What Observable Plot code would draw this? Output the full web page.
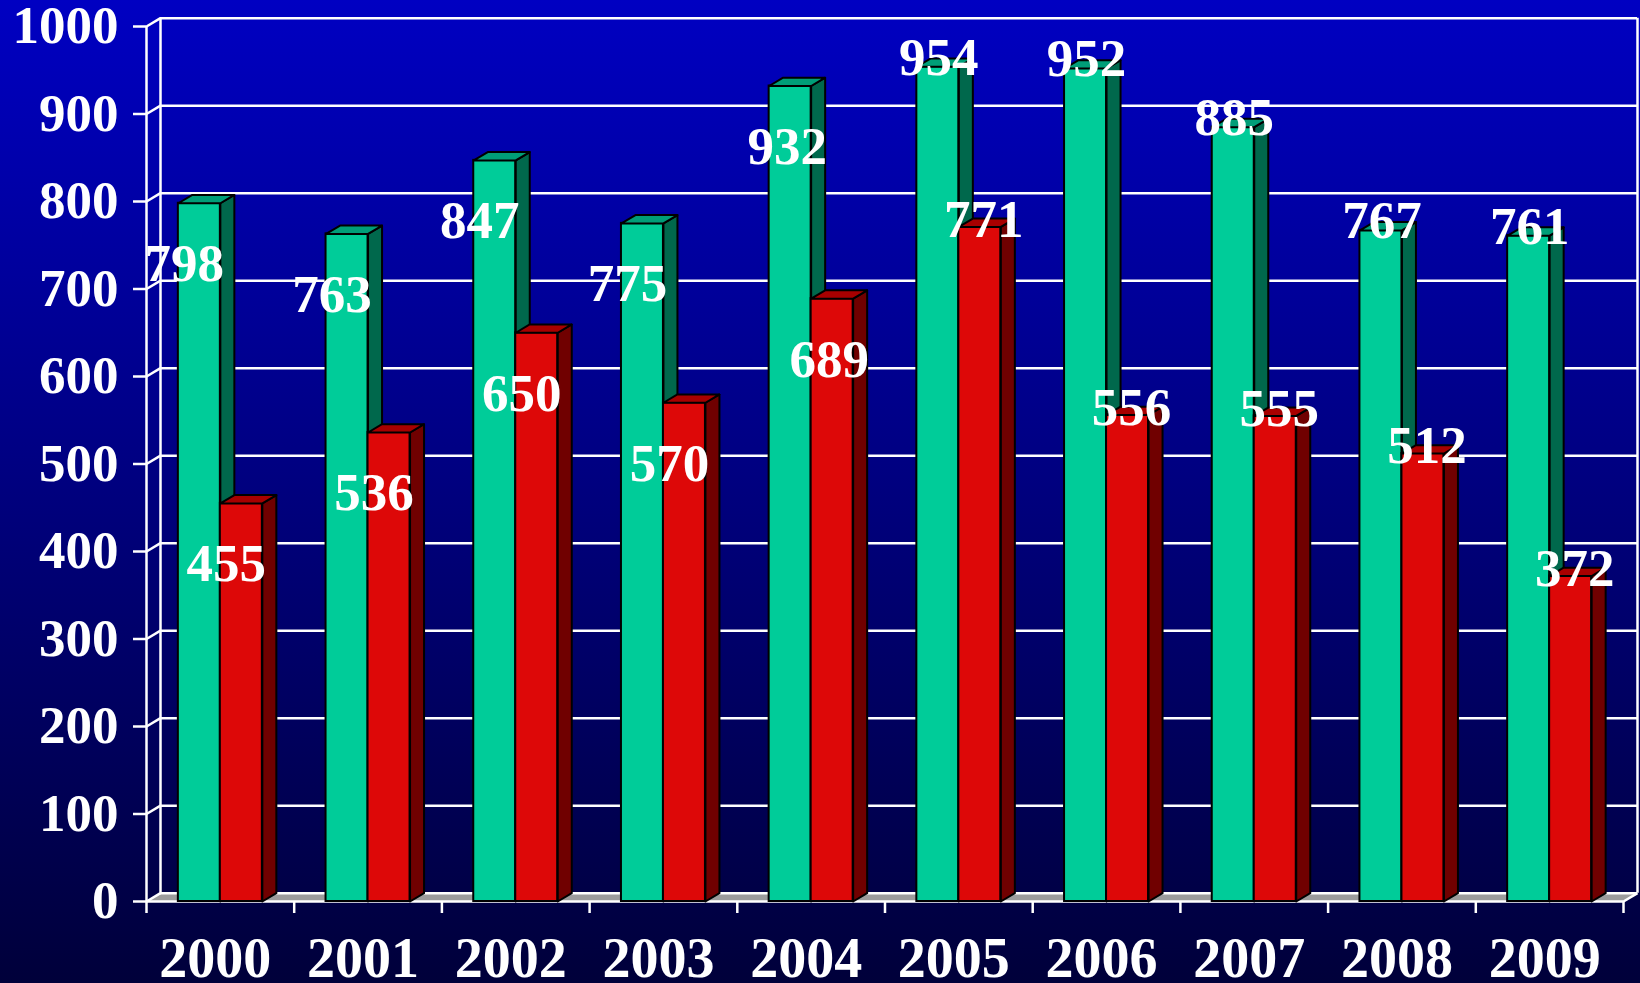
<!DOCTYPE html>
<html>
<head>
<meta charset="utf-8">
<script src="https://cdn.jsdelivr.net/npm/d3@7"></script>
<script src="https://cdn.jsdelivr.net/npm/@observablehq/plot@0.6"></script>
<style>
  html, body { margin: 0; padding: 0; background: #00003a; }
  #chart svg { display: block; }
</style>
</head>
<body>
<div id="chart"></div>
<script>
// ---- data ----
const years = [2000, 2001, 2002, 2003, 2004, 2005, 2006, 2007, 2008, 2009];
const greenValues = [798, 763, 847, 775, 932, 954, 952, 885, 767, 761];
const redValues = [455, 536, 650, 570, 689, 771, 556, 555, 512, 372];
const yTicks = [0, 100, 200, 300, 400, 500, 600, 700, 800, 900, 1000];

// ---- geometry (in scale units) ----
const W = 1640, H = 983;
const mL = 146, mR = 17, mT = 26, mB = 82;
const PX = (W - mL - mR) / years.length;     // px per x unit (one year band)
const YPX = (H - mT - mB) / 1000;           // px per value unit
const DX = 14 / PX;                          // 3D depth, horizontal
const DY = 8.3 / YPX;                        // 3D depth, vertical
const BW = 42 / PX;                          // bar width

const series = [
  {name: "green", values: greenValues, front: "#00cc99", top: "#009e78", side: "#00684c"},
  {name: "red", values: redValues, front: "#dd0808", top: "#a80000", side: "#700000"}
];

const fronts = [], tops = [], sides = [], labels = [];
series.forEach((s, si) => {
  s.values.forEach((v, i) => {
    const x1 = i + 0.5 - BW + si * BW, x2 = x1 + BW;
    const id = s.name + i;
    fronts.push({s: si, x1, x2, v});
    tops.push(
      {id, s: si, x: x1, y: v}, {id, s: si, x: x2, y: v},
      {id, s: si, x: x2 + DX, y: v + DY}, {id, s: si, x: x1 + DX, y: v + DY}
    );
    sides.push(
      {id, s: si, x: x2, y: 0}, {id, s: si, x: x2, y: v},
      {id, s: si, x: x2 + DX, y: v + DY}, {id, s: si, x: x2 + DX, y: DY}
    );
    const year = years[i];
    let dx, dy;
    if (year < 2005) { dx = year < 2004 ? -15 : -3; dy = 61; }
    else { dx = si === 0 ? 1 : 4; dy = si === 0 ? -9 : -7; }
    labels.push({x: (x1 + x2) / 2 + dx / PX, y: v - dy / YPX, text: String(v)});
  });
});

const floor = [
  {x: 0, y: 0}, {x: 10, y: 0}, {x: 10 + DX, y: DY}, {x: DX, y: DY}
];

const bars = [];
series.forEach((s, si) => {
  bars.push(
    Plot.rect(fronts.filter(d => d.s === si), {x1: "x1", x2: "x2", y1: 0, y2: "v", fill: s.front, stroke: "black", strokeWidth: 2}),
    Plot.line(sides.filter(d => d.s === si), {x: "x", y: "y", z: "id", curve: "linear-closed", fill: s.side, stroke: "black", strokeWidth: 2}),
    Plot.line(tops.filter(d => d.s === si), {x: "x", y: "y", z: "id", curve: "linear-closed", fill: s.top, stroke: "black", strokeWidth: 2})
  );
});

const lineW = 2.5;
const chart = Plot.plot({
  width: W,
  height: H,
  marginLeft: mL,
  marginRight: mR,
  marginTop: mT,
  marginBottom: mB,
  x: {type: "linear", domain: [0, years.length], axis: null},
  y: {type: "linear", domain: [0, 1000]},
  style: {
    background: "linear-gradient(to bottom, #0000c2 0%, #00003a 100%)",
    color: "white",
    fontFamily: "'Liberation Serif', 'Times New Roman', serif",
    fontWeight: "bold",
    overflow: "visible"
  },
  marks: [
    // floor
    Plot.line(floor, {x: "x", y: "y", curve: "linear-closed", fill: "#9c9c9c", stroke: "none"}),
    // back wall gridlines
    Plot.ruleY(yTicks, {y: d => d + DY, x1: DX, x2: 10 + DX, stroke: "white", strokeWidth: lineW}),
    // left wall: slanted lines
    Plot.link(yTicks, {x1: 0, y1: d => d, x2: DX, y2: d => d + DY, stroke: "white", strokeWidth: lineW}),
    // left wall back edge and front axis line
    Plot.ruleX([DX], {y1: DY, y2: 1000 + DY, stroke: "white", strokeWidth: lineW}),
    Plot.ruleX([0], {y1: 0, y2: 1000, stroke: "white", strokeWidth: lineW}),
    // right back edge
    Plot.ruleX([10 + DX], {y1: DY, y2: 1000 + DY, stroke: "white", strokeWidth: lineW}),
    // front floor edge
    Plot.ruleY([0], {x1: 0, x2: 10, stroke: "white", strokeWidth: lineW}),
    Plot.link([0], {x1: 10, y1: 0, x2: 10 + DX, y2: DY, stroke: "white", strokeWidth: lineW}),
    // x ticks
    Plot.ruleX(d3.range(years.length + 1), {y1: 0, y2: -12 / YPX, stroke: "white", strokeWidth: lineW}),
    // y axis
    Plot.axisY(yTicks, {tickSize: 13, tickPadding: 15, fontSize: 53, strokeWidth: lineW, tickFormat: d => String(d)}),
    // bars
    ...bars,
    // year labels
    Plot.text(years, {x: (d, i) => i + 0.5, y: 0, text: d => String(d), dx: -5, dy: 58, fontSize: 56}),
    // value labels
    Plot.text(labels, {x: "x", y: "y", text: "text", fontSize: 53})
  ]
});
document.getElementById("chart").appendChild(chart);
</script>
</body>
</html>
